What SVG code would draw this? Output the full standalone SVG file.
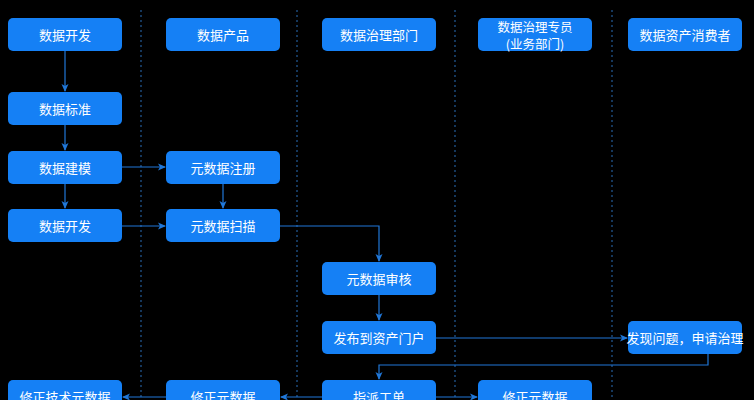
<svg xmlns="http://www.w3.org/2000/svg" width="754" height="400" viewBox="0 0 754 400">
<style>
.n rect{fill:#1580f5}
.n text{fill:#fff;font-family:"Noto Sans CJK SC",sans-serif;font-size:13px;text-anchor:middle;dominant-baseline:central}
.d{stroke:#2a6fb8;stroke-width:1;stroke-dasharray:2 3}
.c path{fill:none;stroke:#2077d8;stroke-width:1.2;marker-end:url(#a)}
</style>
<defs><marker id="a" markerWidth="8" markerHeight="8" refX="7" refY="4" orient="auto" markerUnits="userSpaceOnUse"><path d="M0,0.5 L8,4 L0,7.5 L2,4 Z" fill="#2077d8"/></marker></defs>
<rect width="754" height="400" fill="#000"/>
<g id="dividers">
<line class="d" x1="141" y1="10" x2="141" y2="400"/>
<line class="d" x1="297" y1="10" x2="297" y2="400"/>
<line class="d" x1="455" y1="10" x2="455" y2="400"/>
<line class="d" x1="612" y1="10" x2="612" y2="400"/>
</g>
<g class="c" id="connectors">
<path d="M65,51 V91"/>
<path d="M65,125 V150"/>
<path d="M65,184 V208"/>
<path d="M122,167 H165"/>
<path d="M122,226 H165"/>
<path d="M223,184 V208"/>
<path d="M280,226 H379 V261"/>
<path d="M379,295 V320"/>
<path d="M436,338 H627"/>
<path d="M708,354 V365 H379 V379"/>
<path d="M322,397 H281"/>
<path d="M166,397 H123"/>
<path d="M436,397 H477"/>
</g>
<g class="n" id="n1"><rect x="8" y="18" width="114" height="33" rx="5"/><text x="65" y="34.5">数据开发</text></g>
<g class="n" id="n2"><rect x="166" y="18" width="114" height="33" rx="5"/><text x="223" y="34.5">数据产品</text></g>
<g class="n" id="n3"><rect x="322" y="18" width="114" height="33" rx="5"/><text x="379" y="34.5">数据治理部门</text></g>
<g class="n" id="n4"><rect x="478" y="18" width="114" height="33" rx="5"/><text x="535" y="26" style="font-size:12.5px">数据治理专员</text><text x="535" y="43" style="font-size:12.5px">(业务部门)</text></g>
<g class="n" id="n5"><rect x="628" y="18" width="114" height="33" rx="5"/><text x="685" y="34.5">数据资产消费者</text></g>
<g class="n" id="n6"><rect x="8" y="92" width="114" height="33" rx="5"/><text x="65" y="108.5">数据标准</text></g>
<g class="n" id="n7"><rect x="8" y="151" width="114" height="33" rx="5"/><text x="65" y="167.5">数据建模</text></g>
<g class="n" id="n8"><rect x="166" y="151" width="114" height="33" rx="5"/><text x="223" y="167.5">元数据注册</text></g>
<g class="n" id="n9"><rect x="8" y="209" width="114" height="33" rx="5"/><text x="65" y="225.5">数据开发</text></g>
<g class="n" id="n10"><rect x="166" y="209" width="114" height="33" rx="5"/><text x="223" y="225.5">元数据扫描</text></g>
<g class="n" id="n11"><rect x="322" y="262" width="114" height="33" rx="5"/><text x="379" y="278.5">元数据审核</text></g>
<g class="n" id="n12"><rect x="322" y="321" width="114" height="33" rx="5"/><text x="379" y="337.5">发布到资产门户</text></g>
<g class="n" id="n13"><rect x="628" y="321" width="114" height="33" rx="5"/><text x="685" y="337.5">发现问题，申请治理</text></g>
<g class="n" id="n14"><rect x="8" y="380" width="114" height="33" rx="5"/><text x="65" y="396.5">修正技术元数据</text></g>
<g class="n" id="n15"><rect x="166" y="380" width="114" height="33" rx="5"/><text x="223" y="396.5">修正元数据</text></g>
<g class="n" id="n16"><rect x="322" y="380" width="114" height="33" rx="5"/><text x="379" y="396.5">指派工单</text></g>
<g class="n" id="n17"><rect x="478" y="380" width="114" height="33" rx="5"/><text x="535" y="396.5">修正元数据</text></g>
</svg>
